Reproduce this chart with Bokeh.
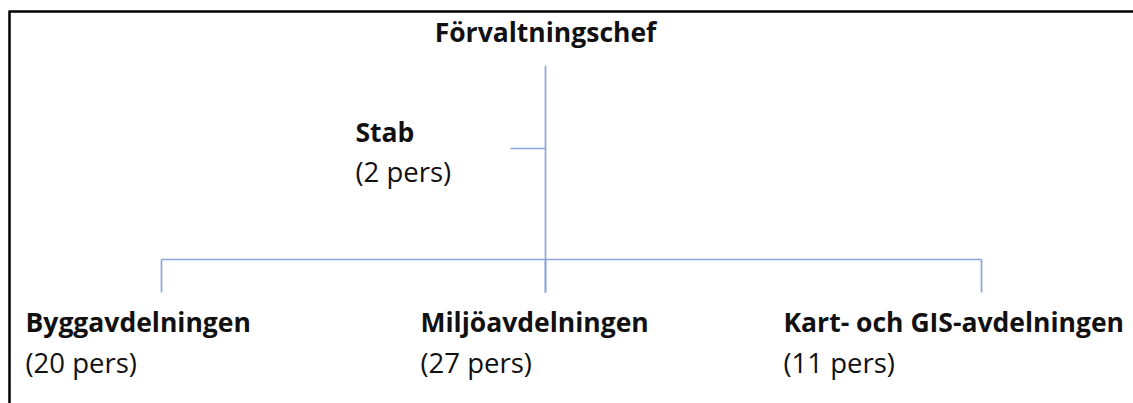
from bokeh.plotting import figure
from bokeh.models import Range1d, ColumnDataSource
from bokeh.core.properties import value
from bokeh.embed import file_html
from bokeh.resources import INLINE

# data
head = "Förvaltningschef"
staff_unit = "Stab"
staff_persons = 2
departments = ["Byggavdelningen", "Miljöavdelningen", "Kart- och GIS-avdelningen"]
dept_persons = [20, 27, 11]

W, H = 1133, 403
p = figure(width=W, height=H, output_backend="svg", toolbar_location=None,
           x_range=Range1d(0, W), y_range=Range1d(H, 0),
           min_border=0, outline_line_color=None, border_fill_color="white")
p.axis.visible = False
p.grid.visible = False
p.background_fill_color = "white"

FONT = value("Open Sans")
LINE = "#8AA6DB"
TXT = "#111111"
FSB = "26.5px"
FSR = "27.5px"

# frame (top and left)
p.line([8, W + 5], [11, 11], line_color="black", line_width=2.5)
p.line([9, 9], [11, H + 5], line_color="black", line_width=2.5)

# connectors
cx = 545
LW = 1.7
p.line([cx, cx], [65, 292], line_color=LINE, line_width=LW)
p.line([510, cx], [148, 148], line_color=LINE, line_width=LW)
dept_x = [25, 420, 783]
drop_x = [161, cx, 981]
p.line([drop_x[0], drop_x[-1]], [259, 259], line_color=LINE, line_width=LW)
for dx in drop_x:
    p.line([dx, dx], [259, 292], line_color=LINE, line_width=LW)

# texts
p.text(x=[cx], y=[31], text=[head], text_font=FONT, text_font_style="bold",
       text_font_size=FSB, text_align="center", text_baseline="alphabetic",
       text_color=TXT)
p.text(x=[355], y=[131], text=[staff_unit], text_font=FONT, text_font_style="bold",
       text_font_size=FSB, text_baseline="alphabetic", text_color=TXT)
p.text(x=[355], y=[171], text=[f"({staff_persons} pers)"], text_font=FONT,
       text_font_size=FSR, text_baseline="alphabetic", text_color=TXT)

src = ColumnDataSource(dict(x=dept_x, y1=[321] * 3, y2=[362] * 3,
                            name=departments,
                            pers=[f"({n} pers)" for n in dept_persons]))
p.text(x="x", y="y1", text="name", source=src, text_font=FONT, text_font_style="bold",
       text_font_size=FSB, text_baseline="alphabetic", text_color=TXT)
p.text(x="x", y="y2", text="pers", source=src, text_font=FONT,
       text_font_size=FSR, text_baseline="alphabetic", text_color=TXT)

open("out.html", "w").write(file_html(p, INLINE).replace(
    "</head>", "<style>html,body{margin:0;padding:0;overflow:hidden;}</style></head>"))
